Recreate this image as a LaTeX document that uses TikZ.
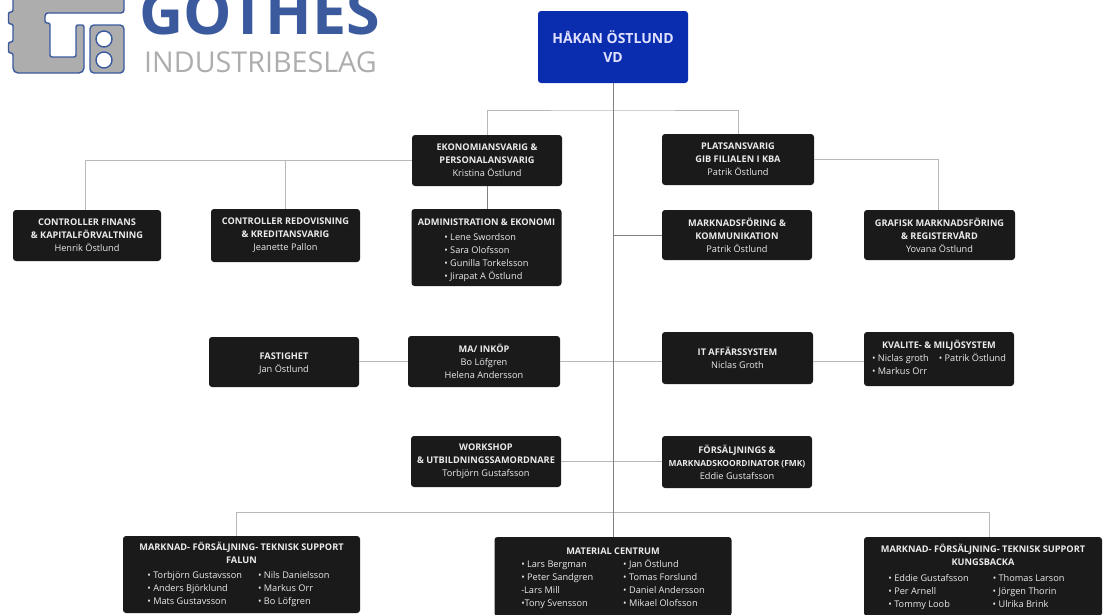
\documentclass[tikz,border=0pt]{standalone}
\usepackage{fontspec}
\setmainfont{Open Sans}
\definecolor{logoblue}{HTML}{3B5A9E}
\definecolor{logogray}{HTML}{ADADAD}
\definecolor{boxblack}{HTML}{1A1A1A}
\definecolor{vdblue}{HTML}{0A2DB0}
\newcommand{\ttl}[1]{\textbf{#1}}
\newcommand{\lift}[1]{\rule{0pt}{#1pt}}
\newcommand{\twocol}[3]{\begin{tabular}[t]{@{}l@{\hspace{#1pt}}l@{\hspace{#2pt}}}#3\end{tabular}}
\tikzset{
  box/.style={rectangle, rounded corners=3pt, fill=boxblack, text=white!92!black, align=center,
    inner sep=0pt, font=\fontsize{9.2}{13}\selectfont},
  trunk/.style={draw=black!50, line width=0.9pt},
  link/.style={draw=black!28, line width=1pt}
}

\begin{document}
\begin{tikzpicture}[x=1pt,y=-1pt]
  \useasboundingbox (0,0) rectangle (1109,614);
  % logo
  \begin{scope}
   \clip (0,0) rectangle (1109,614);
   \draw[logoblue,fill=logogray,line width=1.4pt,rounded corners=2pt]
     (13,-6) -- (13,12) -- (8.5,12) -- (8.5,24) -- (13,24) -- (13,42) -- (8.5,42) -- (8.5,53) -- (13,53)
     -- (13,66) [rounded corners=5pt] -- (13,73) -- (84,73) [rounded corners=2pt] -- (84,25) -- (76,25) -- (76,57) -- (50,57)
     -- (50,23) -- (45,23) [rounded corners=3pt] -- (45,13) -- (124,13) -- (124,-6) -- cycle;
   \draw[logoblue,fill=logogray,line width=1.4pt,rounded corners=4pt]
     (90,25) rectangle (124,73);
   \draw[logoblue,fill=white,line width=1.4pt] (104,39) circle (8);
   \draw[logoblue,fill=white,line width=1.4pt] (104,60) circle (8);
   \node[anchor=base west,inner sep=0pt,text=logoblue,font=\fontsize{61}{61}\selectfont\bfseries] (gothes) at (139,34) {GOTHES};
   \node[anchor=base west,inner sep=0pt,text=logogray,font=\fontsize{28.7}{28.7}\selectfont] (beslag) at (144,72.5) {INDUSTRIBESLAG};
  \end{scope}
  % boxes
  \node[box,fill=vdblue,minimum width=150,minimum height=72,font=\fontsize{14}{19}\selectfont\bfseries,text=white!88!blue] (vd) at (613,47) {HÅKAN ÖSTLUND\\VD};
  \node[box,minimum width=150,minimum height=51] (eko) at (487,160.5) {\ttl{EKONOMIANSVARIG  \&}\\\ttl{PERSONALANSVARIG}\\Kristina Östlund};
  \node[box,minimum width=152,minimum height=51] (plats) at (738,159.5) {\ttl{PLATSANSVARIG}\\\ttl{GIB FILIALEN I KBA}\\Patrik Östlund};
  \node[box,minimum width=148,minimum height=51] (cf) at (87,235.5) {\ttl{CONTROLLER FINANS}\\\ttl{\& KAPITALFÖRVALTNING}\\Henrik Östlund};
  \node[box,minimum width=149,minimum height=53] (cr) at (285.5,235.5) {\ttl{CONTROLLER REDOVISNING}\\\ttl{\& KREDITANSVARIG}\\Jeanette Pallon};
  \node[box,minimum width=150,minimum height=77] (adm) at (486.5,247.5) {\lift{14.6}\ttl{ADMINISTRATION \& EKONOMI}\\[2pt]
    \begin{tabular}[t]{@{}l@{}}• Lene Swordson\\• Sara Olofsson\\• Gunilla Torkelsson\\• Jirapat A Östlund\end{tabular}};
  \node[box,minimum width=150,minimum height=50] (mk) at (737,235) {\ttl{MARKNADSFÖRING \&}\\\ttl{KOMMUNIKATION}\\Patrik Östlund};
  \node[box,minimum width=151,minimum height=50] (gr) at (939.5,235) {\ttl{GRAFISK MARKNADSFÖRING}\\\ttl{\& REGISTERVÅRD}\\Yovana Östlund};
  \node[box,minimum width=150,minimum height=50] (fa) at (284,362) {\lift{10.6}\ttl{FASTIGHET}\\Jan Östlund};
  \node[box,minimum width=152,minimum height=51] (ma) at (484,361.5) {\ttl{MA/ INKÖP}\\Bo Löfgren\\Helena Andersson};
  \node[box,minimum width=151,minimum height=52] (it) at (737.5,358) {\ttl{IT AFFÄRSSYSTEM}\\Niclas Groth};
  \node[box,minimum width=150,minimum height=54] (kv) at (939,359) {\lift{8.6}\ttl{KVALITE- \& MILJÖSYSTEM}\\
    \twocol{10}{0}{• Niclas groth & • Patrik Östlund\\• Markus Orr &}};
  \node[box,minimum width=150,minimum height=51] (ws) at (486,461.5) {\ttl{WORKSHOP}\\\ttl{\& UTBILDNINGSSAMORDNARE}\\Torbjörn Gustafsson};
  \node[box,minimum width=150,minimum height=52] (fmk) at (737,462) {\ttl{FÖRSÄLJNINGS \&}\\{\fontsize{8.4}{13}\selectfont\ttl{MARKNADSKOORDINATOR (FMK)}}\\Eddie Gustafsson};
  \node[box,minimum width=237,minimum height=77] (fal) at (241.5,574.5) {\lift{10.6}\ttl{MARKNAD- FÖRSÄLJNING- TEKNISK SUPPORT}\\\ttl{FALUN}\\[2pt]
    \twocol{16}{6}{• Torbjörn Gustavsson & • Nils Danielsson\\• Anders Björklund & • Markus Orr\\• Mats Gustavsson & • Bo Löfgren}};
  \node[box,minimum width=237,minimum height=79] (mat) at (613,576.5) {\lift{11.6}\ttl{MATERIAL CENTRUM}\\
    \twocol{30}{0}{• Lars Bergman & • Jan Östlund\\• Peter Sandgren & • Tomas Forslund\\-Lars Mill & • Daniel Andersson\\•Tony Svensson & • Mikael Olofsson}};
  \node[box,minimum width=238,minimum height=79] (kun) at (983,576.5) {\lift{10}\ttl{MARKNAD- FÖRSÄLJNING- TEKNISK SUPPORT}\\\ttl{KUNGSBACKA}\\[3pt]
    \twocol{24}{13}{• Eddie Gustafsson & • Thomas Larson\\• Per Arnell & • Jörgen Thorin\\• Tommy Loob & • Ulrika Brink}};
  % connectors
  \coordinate (tbar) at (613,110);
  \coordinate (mrow) at (613,361);
  \coordinate (bl) at (236.5,512);
  \coordinate (br) at (989.5,512);
  \draw[link] (eko.north) |- (tbar) -| (plats.north);
  \draw[link] (eko.west) -| ([xshift=-1.5pt]cf.north);
  \draw[link] (eko.west) -| (cr.north);
  \draw[link] (plats.east) -| ([xshift=-1pt]gr.north);
  \draw[trunk] (eko.south) -- (eko.south |- adm.north);
  \draw[link] (fa.east |- mrow) -- (ma.west |- mrow);
  \draw[link] (ma.east |- mrow) -- (it.west |- mrow);
  \draw[link] (it.east |- mrow) -- (kv.west |- mrow);
  \draw[link] (ws.east) -- (ws.east -| fmk.west);
  \draw[link] (fal.north -| bl) -- (bl) -- (br) -- (kun.north -| br);
  \draw[trunk] (mk.west) -- (mk.west -| vd.south);
  \draw[trunk] (vd.south) -- (vd.south |- mat.north);
\end{tikzpicture}
\end{document}
